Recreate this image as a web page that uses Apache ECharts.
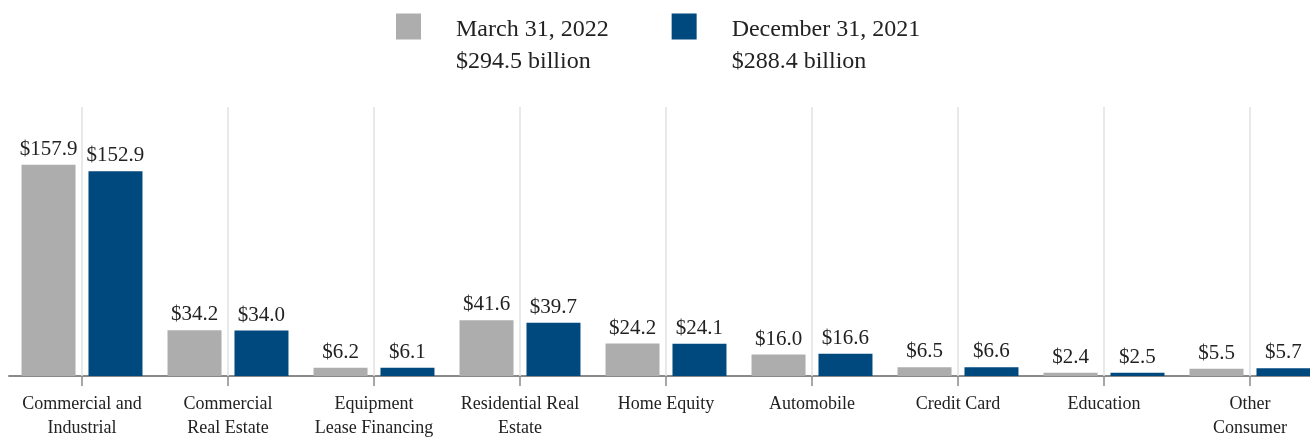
<!DOCTYPE html>
<html>
<head>
<meta charset="utf-8">
<script src="https://cdn.jsdelivr.net/npm/echarts@6/dist/echarts.min.js"></script>
<style>
  html, body { margin: 0; padding: 0; background: #fff; }
  #chart { width: 1310px; height: 437px; }
</style>
</head>
<body>
<div id="chart"></div>
<script>
// 类目（贷款类型）
var categories = [
  'Commercial and\nIndustrial',
  'Commercial\nReal Estate',
  'Equipment\nLease Financing',
  'Residential Real\nEstate',
  'Home Equity',
  'Automobile',
  'Credit Card',
  'Education',
  'Other\nConsumer'
];
// 两个时点的余额（十亿美元）
var seriesNames = ['March 31, 2022', 'December 31, 2021'];
var seriesTotals = ['$294.5 billion', '$288.4 billion'];
var march2022 = [157.9, 34.2, 6.2, 41.6, 24.2, 16.0, 6.5, 2.4, 5.5];
var dec2021 = [152.9, 34.0, 6.1, 39.7, 24.1, 16.6, 6.6, 2.5, 5.7];
var colors = ['#adadad', '#00497f'];

var serif = '"Liberation Serif", "DejaVu Serif", serif';
var chart = echarts.init(document.getElementById('chart'));

// 类目中线处的竖向分隔线（挂在一个空的折线系列上，位置取坐标轴本身）
var centerLines = categories.map(function (c) { return { xAxis: c }; });

function barSeries(name, data, color) {
  return {
    name: name,
    type: 'bar',
    data: data,
    barWidth: 54,
    barGap: '24%',
    z: 3,
    itemStyle: { color: color },
    label: {
      show: true,
      position: 'top',
      distance: 5,
      fontFamily: serif,
      fontSize: 21,
      color: '#222',
      formatter: function (p) { return '$' + p.value.toFixed(1); }
    }
  };
}

chart.setOption({
  animation: false,
  color: colors,
  legend: {
    left: 396,
    top: -10.5,
    padding: 0,
    itemWidth: 25,
    itemHeight: 26,
    itemGap: 63,
    icon: 'rect',
    data: seriesNames,
    // 顶部加一个空行占位，让第一行文字与色块大致对齐
    formatter: function (name) {
      return '{s| }\n{a|' + name + '}\n{a|' + seriesTotals[seriesNames.indexOf(name)] + '}';
    },
    textStyle: {
      padding: [0, 0, 0, 30],
      rich: {
        s: { fontSize: 10, lineHeight: 39 },
        a: { fontFamily: serif, fontSize: 24, lineHeight: 32, color: '#222' }
      }
    }
  },
  grid: {
    left: 9,
    top: 107,
    width: 1314,
    bottom: 61,
    containLabel: false,
    // 不让 v6 自动收缩网格来容纳标签
    outerBoundsMode: 'none'
  },
  xAxis: {
    type: 'category',
    data: categories,
    axisLine: { lineStyle: { color: '#8a8a8a', width: 2 } },
    axisTick: {
      show: true,
      alignWithLabel: true,
      length: 10,
      lineStyle: { color: '#8a8a8a', width: 1.5 }
    },
    axisLabel: {
      interval: 0,
      margin: 16,
      fontFamily: serif,
      fontSize: 18,
      lineHeight: 24,
      color: '#222'
    },
    splitLine: { show: false }
  },
  yAxis: {
    type: 'value',
    min: 0,
    max: 201,
    show: false,
    splitLine: { show: false }
  },
  series: [
    barSeries(seriesNames[0], march2022, colors[0]),
    barSeries(seriesNames[1], dec2021, colors[1]),
    {
      name: 'grid-lines',
      type: 'line',
      data: [],
      silent: true,
      z: 1,
      markLine: {
        silent: true,
        symbol: 'none',
        label: { show: false },
        lineStyle: { color: '#e2e2e2', width: 1.5, type: 'solid' },
        data: centerLines
      }
    }
  ]
});
</script>
</body>
</html>
